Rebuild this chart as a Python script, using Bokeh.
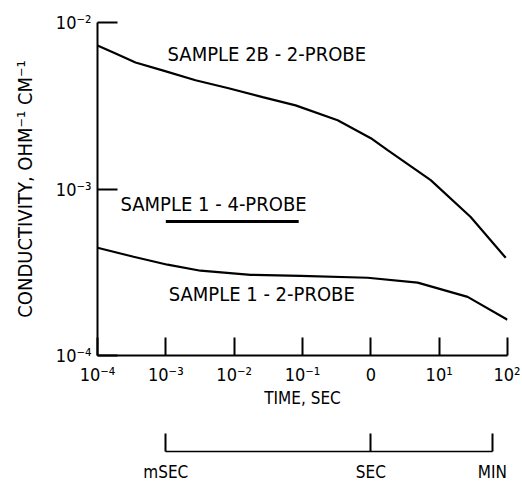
from bokeh.plotting import figure
from bokeh.models import Range1d, LogAxis, LinearAxis, FixedTicker, ColumnDataSource
from bokeh.core.properties import value
from bokeh.embed import file_html
from bokeh.resources import INLINE

FONT = "DejaVu Sans Condensed"

# ---- data ----
x_ticks = [1e-4, 1e-3, 1e-2, 1e-1, 1.0, 10.0, 100.0]
x_tick_labels = ["10⁻⁴", "10⁻³", "10⁻²", "10⁻¹", "0", "10¹", "10²"]
y_ticks = [1e-4, 1e-3, 1e-2]
y_tick_labels = ["10⁻⁴", "10⁻³", "10⁻²"]
unit_ticks = [1e-3, 1.0, 60.0]
unit_labels = ["mSEC", "SEC", "MIN"]

s2b_time = [1e-4, 1.84e-4, 3.60e-4, 8.95e-4, 2.72e-3, 8.28e-3, 2.61e-2, 7.93e-2,
            0.327, 1.0, 1.76, 7.52, 28.9, 94.2]
s2b_cond = [7.28e-3, 6.52e-3, 5.75e-3, 5.16e-3, 4.50e-3, 4.03e-3, 3.56e-3, 3.18e-3,
            2.59e-3, 2.02e-3, 1.71e-3, 1.13e-3, 6.79e-4, 3.86e-4]

s1_2p_time = [1e-4, 3.37e-4, 1.06e-3, 3.22e-3, 1.74e-2, 9.38e-2, 0.897, 4.84, 26.1, 100.0]
s1_2p_cond = [4.44e-4, 3.92e-4, 3.51e-4, 3.23e-4, 3.05e-4, 3.01e-4, 2.93e-4, 2.74e-4, 2.25e-4, 1.64e-4]

s1_4p_time = [1e-3, 8.8e-2]
s1_4p_cond = [6.38e-4, 6.38e-4]

label_texts = ["SAMPLE 2B - 2-PROBE", "SAMPLE 1 - 4-PROBE", "SAMPLE 1 - 2-PROBE"]
label_time = [1.06e-3, 2.17e-4, 1.10e-3]
label_cond = [5.68e-3, 7.18e-4, 2.07e-4]

# ---- figure ----
p = figure(width=520, height=484, x_axis_type="log", y_axis_type="log",
           x_range=Range1d(1e-4, 1e2), y_range=Range1d(1e-4, 1e-2),
           output_backend="svg", toolbar_location=None,
           min_border_left=97, min_border_right=13, min_border_top=22,
           min_border_bottom=128)
p.outline_line_color = None
p.xgrid.visible = False
p.ygrid.visible = False
p.background_fill_color = "white"
p.border_fill_color = "white"

def style_axis(ax, tick_in):
    ax.axis_line_width = 2
    ax.axis_line_color = "black"
    ax.major_tick_line_width = 2
    ax.major_tick_line_color = "black"
    ax.major_tick_in = tick_in
    ax.major_tick_out = 0
    ax.minor_tick_line_color = None
    ax.major_label_text_font = FONT
    ax.major_label_text_font_size = "18px"
    ax.major_label_text_color = "black"
    ax.axis_label_text_font = FONT
    ax.axis_label_text_font_style = "normal"
    ax.axis_label_text_font_size = "16px"
    ax.axis_label_text_color = "black"

xa = p.xaxis[0]
xa.ticker = FixedTicker(ticks=x_ticks)
xa.major_label_overrides = dict(zip(x_ticks, x_tick_labels))
style_axis(xa, 18)
xa.major_label_standoff = 8
xa.axis_label = "TIME, SEC"
xa.axis_label_text_font_size = "17px"
xa.axis_label_standoff = 0

ya = p.yaxis[0]
ya.ticker = FixedTicker(ticks=y_ticks)
ya.major_label_overrides = dict(zip(y_ticks, y_tick_labels))
style_axis(ya, 20)
ya.major_label_standoff = 6
ya.axis_label = "CONDUCTIVITY, OHM⁻¹ CM⁻¹"
ya.axis_label_text_font_size = "20px"
ya.axis_label_standoff = 16

# spacer axis to open the gap before the unit axis
gap = LinearAxis(ticker=FixedTicker(ticks=[]))
gap.axis_line_color = None
gap.major_tick_line_color = None
gap.minor_tick_line_color = None
gap.major_tick_in = 0
gap.major_tick_out = 0
gap.major_label_text_font_size = "0px"
gap.axis_label = " "
gap.axis_label_text_font_size = "34px"
gap.axis_label_standoff = 0
p.add_layout(gap, "below")

ua = LogAxis(ticker=FixedTicker(ticks=unit_ticks), bounds=(unit_ticks[0], unit_ticks[-1]))
ua.major_label_overrides = dict(zip(unit_ticks, unit_labels))
style_axis(ua, 18)
ua.major_label_text_font_size = "17px"
ua.axis_line_width = 1.5
ua.major_label_standoff = 10
p.add_layout(ua, "below")

# ---- curves ----
p.line(s2b_time, s2b_cond, line_color="black", line_width=2.2)
p.line(s1_2p_time, s1_2p_cond, line_color="black", line_width=2.2)
p.line(s1_4p_time, s1_4p_cond, line_color="black", line_width=3)

src = ColumnDataSource(dict(x=label_time, y=label_cond, t=label_texts))
p.text(x="x", y="y", text="t", source=src, text_font=value(FONT),
       text_font_size="20px", text_color="black", y_offset=-9,
       text_align="left", text_baseline="alphabetic")

open("out.html", "w").write(file_html(p, INLINE))
